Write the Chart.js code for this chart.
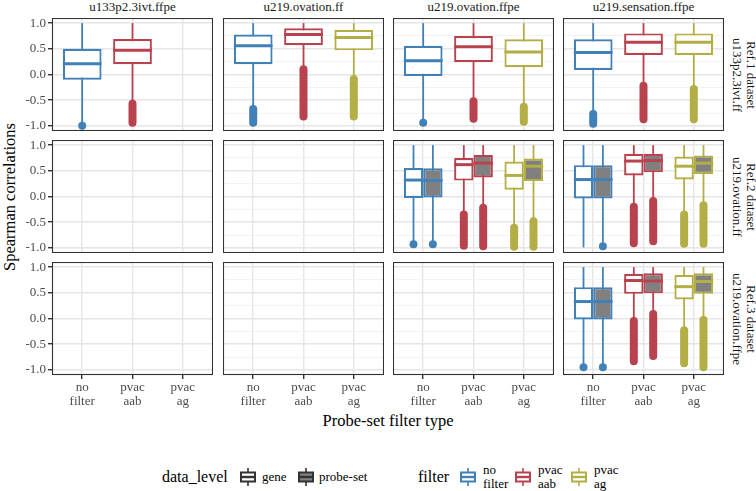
<!DOCTYPE html>
<html lang="en">
<head>
<meta charset="UTF-8">
<title>Spearman correlations by probe-set filter</title>
<script src="https://cdn.jsdelivr.net/npm/chart.js"></script>
<style>
  body { margin: 0; background: #fff; }
  #wrap { position: relative; width: 756px; height: 491px; overflow: hidden;
          font-family: "Liberation Serif", "DejaVu Serif", serif; color: #000; }
  #wrap canvas { position: absolute; }
  .strip { position: absolute; top: 0; font-size: 13px; line-height: 13px; color: #1A1A1A;
           text-align: center; white-space: nowrap; }
  .rstrip { position: absolute; width: 150px; height: 28px; font-size: 13px; line-height: 14px;
            color: #1A1A1A; text-align: center; white-space: nowrap; transform: rotate(90deg); }
  .title { position: absolute; width: 200px; height: 20px; font-size: 16.5px; line-height: 20px;
           text-align: center; white-space: nowrap; }
  .leg { position: absolute; font-size: 13px; line-height: 14px; white-space: nowrap; }
  .legt { position: absolute; font-size: 16px; line-height: 20px; white-space: nowrap; }
  .key { position: absolute; }
</style>
</head>
<body>
<div id="wrap"></div>
<script>
// facets
const platforms = ['u133p2.3ivt.ffpe', 'u219.ovation.ff', 'u219.ovation.ffpe', 'u219.sensation.ffpe'];
const references = [['Ref.1 dataset', 'u133p2.3ivt.ff'], ['Ref.2 dataset', 'u219.ovation.ff'], ['Ref.3 dataset', 'u219.ovation.ffpe']];
const filters = [['no', 'filter'], ['pvac', 'aab'], ['pvac', 'ag']];
const dataLevels = ['gene', 'probe-set'];
const yTicks = [-1, -0.75, -0.5, -0.25, 0, 0.25, 0.5, 0.75, 1];

// row, col, filter, lower whisker, Q1, median, Q3, upper whisker, outliers top, outliers bottom
const geneBoxes = [
  [0, 0, 0, -0.95, -0.10, 0.21, 0.50, 1.00, -1.00, -1.00],
  [0, 0, 1, -0.52, 0.20, 0.47, 0.69, 1.00, -0.57, -0.94],
  [0, 1, 0, -0.62, 0.20, 0.56, 0.78, 1.00, -0.67, -0.94],
  [0, 1, 1, 0.12, 0.57, 0.78, 0.90, 1.00, 0.10, -0.82],
  [0, 1, 2, -0.05, 0.47, 0.72, 0.87, 1.00, -0.09, -0.82],
  [0, 2, 0, -0.88, -0.03, 0.27, 0.56, 1.00, -0.94, -0.94],
  [0, 2, 1, -0.48, 0.24, 0.54, 0.75, 1.00, -0.52, -0.86],
  [0, 2, 2, -0.58, 0.14, 0.44, 0.685, 1.00, -0.63, -0.92],
  [0, 3, 0, -0.72, 0.09, 0.43, 0.685, 1.00, -0.77, -0.96],
  [0, 3, 1, -0.18, 0.38, 0.63, 0.80, 1.00, -0.22, -0.87],
  [0, 3, 2, -0.24, 0.38, 0.63, 0.80, 1.00, -0.28, -0.87],
  [1, 2, 0, -0.88, -0.03, 0.32, 0.555, 1.00, -0.93, -0.93],
  [1, 2, 1, -0.30, 0.31, 0.62, 0.75, 1.00, -0.35, -0.96],
  [1, 2, 2, -0.56, 0.13, 0.41, 0.68, 1.00, -0.61, -0.98],
  [1, 3, 0, -0.99, -0.04, 0.33, 0.61, 1.00, null, null],
  [1, 3, 1, -0.15, 0.41, 0.69, 0.83, 1.00, -0.20, -0.91],
  [1, 3, 2, -0.30, 0.33, 0.59, 0.78, 1.00, -0.35, -0.92],
  [2, 3, 0, -0.90, -0.02, 0.33, 0.61, 1.00, -0.95, -0.95],
  [2, 3, 1, 0.00, 0.48, 0.74, 0.87, 1.00, -0.05, -0.83],
  [2, 3, 2, -0.18, 0.37, 0.62, 0.85, 1.00, -0.23, -0.87]
];
const probeBoxes = [
  [1, 2, 0, -0.88, -0.02, 0.31, 0.55, 1.00, -0.93, -0.93],
  [1, 2, 1, -0.18, 0.37, 0.65, 0.81, 1.00, -0.22, -0.97],
  [1, 2, 2, -0.43, 0.30, 0.59, 0.74, 1.00, -0.48, -0.98],
  [1, 3, 0, -0.90, -0.04, 0.33, 0.61, 1.00, -0.97, -0.97],
  [1, 3, 1, -0.05, 0.47, 0.70, 0.83, 1.00, -0.09, -0.87],
  [1, 3, 2, -0.12, 0.44, 0.65, 0.80, 1.00, -0.17, -0.92],
  [2, 3, 0, -0.90, -0.02, 0.33, 0.61, 1.00, -0.95, -0.95],
  [2, 3, 1, 0.13, 0.49, 0.73, 0.88, 1.00, 0.09, -0.73],
  [2, 3, 2, 0.02, 0.48, 0.72, 0.88, 1.00, -0.03, -0.95]
];

const filterColors = ['#4280B8', '#B8434E', '#B3AE45'];
const levelFills = ['#FFFFFF', '#808080'];
const FONT = '"Liberation Serif", "DejaVu Serif", serif';

// panel geometry
const colX = [52, 223, 393, 563], rowY = [18, 140, 262];
const PW = 161, PH = 113, AXW = 52, AXH = 40;

const isMajor = v => Math.abs(v * 2 - Math.round(v * 2)) < 1e-9;

const boxExtras = {
  id: 'boxExtras',
  beforeDatasetsDraw(chart) {
    const {ctx} = chart, y = chart.scales.y;
    chart.data.datasets.forEach((ds, di) => {
      chart.getDatasetMeta(di).data.forEach((bar, i) => {
        const s = ds.stats[i], col = filterColors[s[2]];
        ctx.save();
        ctx.strokeStyle = col;
        ctx.lineWidth = 1.8;
        ctx.beginPath();
        ctx.moveTo(bar.x, y.getPixelForValue(s[7]));
        ctx.lineTo(bar.x, y.getPixelForValue(s[3]));
        ctx.stroke();
        if (s[8] !== null) {
          const R = 4, y1 = y.getPixelForValue(s[8]), y2 = y.getPixelForValue(s[9]);
          ctx.fillStyle = col;
          ctx.beginPath();
          ctx.arc(bar.x, y1, R, Math.PI, 2 * Math.PI);
          ctx.lineTo(bar.x + R, y2);
          ctx.arc(bar.x, y2, R, 0, Math.PI);
          ctx.closePath();
          ctx.fill();
        }
        ctx.restore();
      });
    });
  },
  afterDatasetsDraw(chart) {
    const {ctx} = chart, y = chart.scales.y;
    chart.data.datasets.forEach((ds, di) => {
      chart.getDatasetMeta(di).data.forEach((bar, i) => {
        const s = ds.stats[i], py = y.getPixelForValue(s[5]);
        ctx.save();
        ctx.strokeStyle = filterColors[s[2]];
        ctx.lineWidth = 3;
        ctx.beginPath();
        ctx.moveTo(bar.x - bar.width / 2, py);
        ctx.lineTo(bar.x + bar.width / 2, py);
        ctx.stroke();
        ctx.restore();
      });
    });
  },
  afterDraw(chart) {
    const {ctx, chartArea: a} = chart;
    ctx.save();
    ctx.strokeStyle = '#333333';
    ctx.lineWidth = 1.1;
    ctx.strokeRect(a.left + 0.5, a.top + 0.5, a.right - a.left - 1, a.bottom - a.top - 1);
    ctx.restore();
  }
};

function boxDataset(rows, level) {
  return {
    data: rows.map(b => ({x: b[2] + 1, y: [b[4], b[6]]})),
    stats: rows,
    backgroundColor: levelFills[level],
    borderColor: rows.map(b => filterColors[b[2]]),
    borderWidth: 2.2,
    borderSkipped: false,
    categoryPercentage: 0.77,
    barPercentage: 1
  };
}

function noPadding(s) {
  s.paddingTop = s.paddingBottom = s.paddingLeft = s.paddingRight = 0;
}

const wrap = document.getElementById('wrap');

function drawPanels() {
  for (let r = 0; r < 3; r++) {
    for (let c = 0; c < 4; c++) {
      const w = PW + (c === 0 ? AXW : 0), h = PH + (r === 2 ? AXH : 0);
      const canvas = document.createElement('canvas');
      canvas.width = w; canvas.height = h;
      canvas.style.left = (colX[c] - (c === 0 ? AXW : 0)) + 'px';
      canvas.style.top = rowY[r] + 'px';
      canvas.style.width = w + 'px';
      canvas.style.height = h + 'px';
      wrap.appendChild(canvas);

      const datasets = [];
      const gene = geneBoxes.filter(b => b[0] === r && b[1] === c);
      const probe = probeBoxes.filter(b => b[0] === r && b[1] === c);
      if (gene.length) datasets.push(boxDataset(gene, 0));
      if (probe.length) datasets.push(boxDataset(probe, 1));

      new Chart(canvas, {
        type: 'bar',
        data: {datasets},
        options: {
          responsive: false,
          animation: false,
          devicePixelRatio: 1,
          layout: {padding: 0},
          plugins: {legend: {display: false}, tooltip: {enabled: false}},
          scales: {
            x: {
              type: 'linear', min: 0.4, max: 3.6, offset: false,
              afterBuildTicks: s => { s.ticks = [1, 2, 3].map(v => ({value: v})); },
              ticks: {
                display: r === 2, autoSkip: false, maxRotation: 0, padding: 2,
                color: '#4D4D4D', font: {family: FONT, size: 13, lineHeight: 1.08},
                callback: v => filters[Math.round(v) - 1]
              },
              grid: {offset: false, color: '#E6E6E6', lineWidth: 1.4, drawTicks: r === 2, tickLength: 4, tickColor: '#333333'},
              border: {display: false},
              afterFit: s => { s.height = r === 2 ? AXH : 0; noPadding(s); }
            },
            y: {
              min: -1.1, max: 1.1,
              afterBuildTicks: s => { s.ticks = yTicks.map(v => ({value: v})); },
              ticks: {
                display: c === 0, padding: 2,
                color: '#4D4D4D', font: {family: FONT, size: 13},
                callback: v => isMajor(v) ? v.toFixed(1) : ''
              },
              grid: {
                color: ctx => ctx.tick && isMajor(ctx.tick.value) ? '#E6E6E6' : '#F0F0F0',
                lineWidth: ctx => ctx.tick && isMajor(ctx.tick.value) ? 1.4 : 0.8,
                drawTicks: c === 0, tickLength: 4,
                tickColor: ctx => ctx.tick && isMajor(ctx.tick.value) ? '#333333' : 'rgba(0,0,0,0)'
              },
              border: {display: false},
              afterFit: s => { s.width = c === 0 ? AXW : 0; noPadding(s); }
            }
          }
        },
        plugins: [boxExtras]
      });
    }
  }
}

// facet strips
platforms.forEach((p, c) => {
  const d = document.createElement('div');
  d.className = 'strip';
  d.style.left = colX[c] + 'px';
  d.style.width = PW + 'px';
  d.textContent = p;
  wrap.appendChild(d);
});
references.forEach((lines, r) => {
  const d = document.createElement('div');
  d.className = 'rstrip';
  d.style.left = (743.5 - 75) + 'px';
  d.style.top = (rowY[r] + PH / 2 - 14) + 'px';
  d.innerHTML = lines.join('<br>');
  wrap.appendChild(d);
});

// axis titles
const yTitle = document.createElement('div');
yTitle.className = 'title';
yTitle.style.left = (10 - 100) + 'px';
yTitle.style.top = (196.5 - 10) + 'px';
yTitle.style.transform = 'rotate(-90deg)';
yTitle.textContent = 'Spearman correlations';
wrap.appendChild(yTitle);

const xTitle = document.createElement('div');
xTitle.className = 'title';
xTitle.style.left = (388 - 100) + 'px';
xTitle.style.top = (421 - 10) + 'px';
xTitle.textContent = 'Probe-set filter type';
wrap.appendChild(xTitle);

// legend
function keySvg(stroke, fill) {
  return '<svg width="18" height="18"><line x1="9" y1="0" x2="9" y2="18" stroke="' + stroke + '" stroke-width="1.6"/>' +
    '<rect x="2" y="4.5" width="14" height="9" fill="' + fill + '" stroke="' + stroke + '" stroke-width="2"/>' +
    '<line x1="2" y1="9" x2="16" y2="9" stroke="' + stroke + '" stroke-width="2.4"/></svg>';
}
function addEl(cls, left, top, html) {
  const d = document.createElement('div');
  d.className = cls;
  d.style.left = left + 'px';
  d.style.top = top + 'px';
  d.innerHTML = html;
  wrap.appendChild(d);
}
const LY = 477;
addEl('legt', 162, LY - 10, 'data_level');
[239, 297].forEach((kx, i) => addEl('key', kx, LY - 9, keySvg('#333333', levelFills[i])));
addEl('leg', 262, LY - 7, dataLevels[0]);
addEl('leg', 319, LY - 7, dataLevels[1]);
addEl('legt', 418, LY - 10, 'filter');
[459, 514, 570].forEach((kx, i) => {
  addEl('key', kx, LY - 9, keySvg(filterColors[i], '#FFFFFF'));
  addEl('leg', kx + 24, LY - 14, filters[i].join('<br>'));
});

// canvas text needs the serif face loaded before Chart.js measures it
document.fonts.load('13px "Liberation Serif"').then(drawPanels, drawPanels);
</script>
</body>
</html>
